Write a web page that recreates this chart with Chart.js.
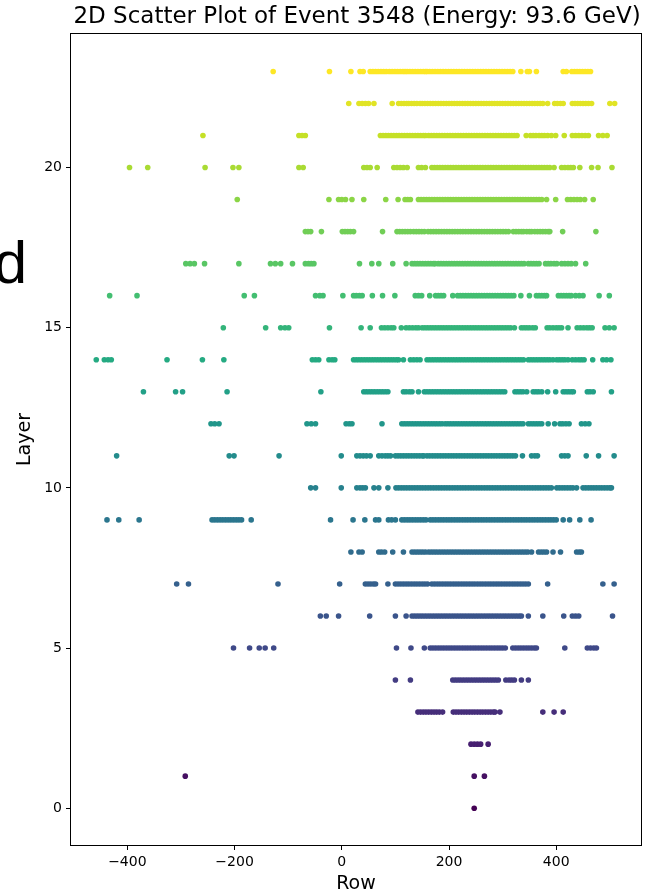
<!DOCTYPE html>
<html>
<head>
<meta charset="utf-8">
<script src="https://cdn.jsdelivr.net/npm/chart.js@4.4.1/dist/chart.umd.min.js"></script>
<style>
  html, body { margin: 0; padding: 0; background: #fff; }
  #wrap { width: 646px; height: 894px; position: relative; }
</style>
</head>
<body>
<div id="wrap"><canvas id="cv"></canvas></div>
<script>
// Row positions of hits, one array per layer
const L0 = [247];
const L1 = [-292, 247, 266];
const L2 = [241, 247, 253, 259, 273];
const L3 = [142, 147, 152, 157, 162, 167, 172, 177, 182, 188, 208, 213, 218, 223, 228, 233, 238, 243, 248, 253, 258, 263, 268, 273, 278, 283, 286, 295, 375, 396, 413];
const L4 = [100, 128, 207, 212, 217, 222, 227, 232, 237, 242, 247, 252, 257, 262, 267, 272, 277, 282, 287, 292, 306, 312, 317, 322, 335, 348];
const L5 = [-202, -172, -154, -143, -127, 102, 129, 154, 165, 170, 175, 180, 185, 190, 195, 200, 205, 210, 215, 220, 225, 230, 235, 240, 245, 250, 255, 260, 265, 270, 275, 280, 285, 290, 295, 300, 305, 319, 324, 329, 334, 339, 344, 349, 354, 359, 363, 416, 458, 464, 470, 475];
const L6 = [-40, -29, -6, 52, 100, 120, 131, 136, 141, 146, 151, 156, 161, 166, 171, 176, 181, 186, 191, 196, 201, 206, 211, 216, 221, 226, 231, 236, 241, 246, 251, 256, 261, 266, 271, 276, 281, 286, 291, 296, 301, 306, 311, 316, 321, 326, 331, 335, 348, 375, 414, 430, 436, 442, 505];
const L7 = [-308, -286, -119, -4, 44, 49, 54, 59, 63, 86, 100, 105, 110, 115, 120, 125, 130, 135, 140, 145, 150, 155, 160, 168, 173, 178, 183, 188, 193, 198, 203, 208, 213, 218, 223, 228, 233, 238, 243, 248, 253, 258, 263, 268, 273, 278, 283, 288, 293, 298, 303, 308, 313, 318, 323, 328, 333, 338, 343, 348, 384, 487, 508];
const L8 = [17, 32, 38, 69, 74, 80, 95, 115, 131, 136, 141, 146, 151, 156, 162, 167, 172, 177, 182, 187, 192, 197, 202, 207, 212, 217, 222, 227, 232, 237, 242, 247, 252, 257, 262, 267, 272, 277, 282, 287, 292, 297, 302, 307, 312, 317, 322, 327, 332, 337, 342, 347, 354, 367, 372, 377, 382, 394, 408, 438, 443, 447];
const L9 = [-438, -416, -378, -242, -237, -232, -227, -222, -217, -212, -207, -202, -197, -192, -187, -169, -21, 21, 43, 63, 69, 87, 93, 100, 112, 117, 122, 127, 132, 137, 142, 147, 152, 157, 165, 170, 175, 180, 185, 190, 195, 200, 205, 210, 215, 220, 225, 230, 235, 240, 245, 250, 255, 260, 265, 270, 275, 280, 285, 290, 295, 300, 305, 310, 315, 320, 325, 330, 335, 340, 345, 350, 355, 360, 365, 370, 375, 380, 385, 390, 395, 400, 413, 425, 444, 465];
const L10 = [-58, -49, -1, 28, 34, 39, 44, 60, 69, 86, 101, 106, 111, 116, 121, 126, 131, 136, 141, 146, 151, 156, 161, 166, 171, 176, 181, 186, 191, 196, 201, 206, 211, 216, 221, 226, 231, 236, 241, 246, 251, 256, 261, 266, 271, 276, 281, 286, 291, 296, 301, 306, 311, 316, 321, 326, 331, 336, 341, 346, 351, 356, 361, 366, 371, 376, 381, 386, 391, 401, 406, 411, 416, 421, 426, 431, 438, 450, 455, 460, 465, 470, 475, 480, 485, 490, 495, 500, 503];
const L11 = [-420, -210, -201, -117, -1, 28, 34, 40, 46, 53, 69, 75, 81, 86, 91, 100, 105, 110, 115, 120, 125, 130, 135, 140, 145, 150, 153, 159, 164, 169, 174, 179, 184, 189, 194, 199, 204, 209, 214, 219, 224, 229, 234, 239, 244, 249, 254, 259, 264, 269, 274, 279, 284, 289, 294, 299, 304, 309, 314, 319, 324, 337, 354, 360, 365, 410, 416, 422, 456, 479, 508];
const L12 = [-244, -237, -229, -65, -57, -49, 8, 14, 19, 75, 112, 117, 122, 127, 132, 137, 142, 147, 152, 157, 162, 167, 172, 177, 182, 187, 193, 198, 203, 208, 213, 218, 223, 228, 233, 238, 243, 248, 253, 258, 263, 268, 273, 278, 283, 288, 293, 298, 303, 308, 313, 318, 323, 328, 333, 338, 348, 353, 358, 363, 368, 373, 385, 397, 407, 412, 418, 424, 447, 454, 461];
const L13 = [-370, -310, -297, -214, -39, 41, 46, 51, 56, 61, 66, 71, 76, 81, 86, 115, 120, 126, 131, 143, 154, 159, 164, 169, 174, 179, 184, 189, 194, 199, 204, 209, 214, 219, 224, 229, 234, 239, 244, 249, 254, 259, 264, 269, 274, 279, 284, 289, 294, 299, 304, 323, 328, 333, 338, 345, 357, 362, 367, 373, 384, 399, 413, 418, 423, 428, 432, 458, 463, 469, 503];
const L14 = [-458, -443, -436, -430, -326, -260, -220, -55, -49, -43, -24, -18, -13, 22, 27, 32, 37, 42, 47, 52, 57, 62, 67, 72, 77, 82, 87, 92, 97, 102, 106, 115, 128, 134, 140, 146, 159, 164, 169, 174, 179, 184, 189, 194, 199, 204, 209, 214, 219, 224, 229, 234, 239, 244, 249, 254, 259, 264, 269, 274, 279, 284, 289, 294, 299, 304, 309, 314, 319, 324, 329, 334, 339, 348, 353, 358, 363, 368, 373, 378, 383, 388, 394, 401, 406, 411, 416, 422, 430, 436, 442, 447, 452, 468, 487, 494, 502];
const L15 = [-221, -142, -114, -106, -99, -23, 36, 53, 74, 80, 86, 92, 97, 111, 120, 126, 132, 138, 143, 150, 155, 160, 165, 170, 175, 180, 185, 190, 195, 200, 205, 210, 215, 220, 225, 230, 235, 240, 245, 250, 255, 260, 265, 270, 275, 280, 285, 290, 295, 300, 305, 310, 315, 322, 335, 340, 345, 350, 356, 361, 383, 388, 394, 400, 405, 410, 422, 439, 445, 451, 457, 462, 467, 491, 499, 508];
const L16 = [-433, -382, -182, -163, -49, -41, -35, 2, 22, 27, 33, 38, 57, 76, 99, 137, 143, 149, 164, 175, 180, 185, 190, 207, 216, 221, 226, 231, 236, 241, 246, 251, 256, 261, 266, 271, 276, 281, 286, 291, 296, 301, 306, 311, 316, 321, 334, 350, 363, 368, 373, 378, 382, 404, 409, 414, 419, 424, 428, 436, 443, 450, 480, 499];
const L17 = [-291, -283, -275, -256, -192, -133, -124, -114, -92, -68, -62, -57, -52, 33, 56, 69, 95, 120, 131, 136, 141, 146, 151, 156, 161, 166, 171, 174, 180, 185, 190, 195, 200, 205, 210, 215, 220, 225, 230, 235, 240, 245, 250, 255, 260, 265, 270, 275, 280, 285, 290, 295, 300, 305, 310, 315, 320, 325, 330, 335, 340, 348, 353, 358, 363, 368, 380, 385, 390, 396, 401, 410, 416, 422, 428, 436, 455];
const L18 = [-68, -63, -58, -38, 1, 6, 11, 16, 22, 76, 103, 108, 113, 118, 123, 128, 134, 139, 144, 149, 154, 161, 166, 171, 176, 181, 186, 191, 196, 201, 206, 211, 216, 221, 226, 231, 236, 241, 246, 251, 256, 261, 266, 271, 276, 281, 286, 291, 296, 301, 306, 311, 320, 325, 330, 335, 339, 345, 350, 354, 360, 365, 370, 375, 380, 385, 388, 412, 474];
const L19 = [-195, -24, -6, 0, 7, 19, 41, 82, 105, 118, 123, 128, 143, 148, 153, 158, 163, 168, 173, 178, 183, 188, 193, 198, 203, 208, 213, 218, 223, 228, 233, 238, 243, 248, 253, 258, 263, 268, 273, 278, 283, 288, 293, 298, 303, 308, 313, 318, 323, 328, 333, 338, 343, 348, 353, 358, 363, 368, 373, 382, 399, 421, 427, 433, 439, 445, 453, 469];
const L20 = [-396, -362, -255, -203, -192, -80, -72, 41, 47, 53, 66, 97, 103, 109, 115, 122, 143, 149, 156, 168, 173, 178, 183, 188, 193, 198, 203, 208, 213, 218, 223, 228, 233, 238, 243, 248, 253, 258, 263, 268, 273, 278, 283, 288, 293, 298, 303, 308, 313, 318, 323, 328, 333, 338, 343, 348, 353, 358, 363, 368, 373, 378, 383, 388, 396, 410, 416, 422, 427, 432, 444, 466, 478, 504];
const L21 = [-259, -80, -74, -68, 72, 77, 82, 87, 92, 97, 102, 107, 112, 117, 122, 127, 132, 137, 142, 147, 152, 156, 162, 167, 172, 177, 182, 187, 192, 197, 202, 207, 212, 217, 222, 227, 232, 237, 242, 247, 252, 257, 262, 267, 272, 277, 282, 287, 292, 297, 302, 307, 312, 317, 322, 327, 344, 352, 357, 362, 368, 373, 378, 384, 391, 399, 415, 430, 436, 442, 448, 454, 460, 479, 487, 495];
const L22 = [13, 32, 38, 44, 50, 60, 94, 106, 111, 116, 121, 125, 130, 135, 140, 146, 150, 155, 160, 165, 170, 175, 180, 185, 190, 195, 200, 205, 210, 215, 220, 225, 230, 235, 240, 245, 250, 255, 260, 265, 270, 275, 280, 285, 290, 295, 300, 305, 310, 315, 320, 325, 330, 335, 340, 345, 350, 355, 360, 365, 370, 375, 384, 397, 402, 408, 413, 430, 435, 440, 445, 450, 455, 460, 466, 500, 509];
const L23 = [-128, -23, 17, 34, 40, 53, 58, 63, 68, 73, 78, 83, 89, 94, 99, 104, 109, 114, 118, 122, 127, 132, 137, 142, 147, 152, 156, 159, 164, 169, 174, 179, 184, 189, 194, 199, 204, 209, 214, 219, 224, 229, 234, 239, 244, 249, 254, 259, 264, 269, 274, 279, 284, 289, 294, 299, 304, 309, 314, 319, 334, 346, 350, 363, 413, 419, 429, 434, 439, 444, 449, 454, 459, 464];

const LAYERS = [L0, L1, L2, L3, L4, L5, L6, L7, L8, L9, L10, L11, L12, L13, L14, L15, L16, L17, L18, L19, L20, L21, L22, L23];
const X_TICKS = [-400, -200, 0, 200, 400];
const Y_TICKS = [0, 5, 10, 15, 20];

// viridis stops
const VIRIDIS = ['#440154', '#482475', '#414487', '#355f8d', '#2a788e', '#21918c', '#22a884', '#44bf70', '#7ad151', '#bddf26', '#fde725'];
function viridis(t) {
  const p = t * (VIRIDIS.length - 1);
  const i = Math.min(Math.floor(p), VIRIDIS.length - 2);
  const f = p - i;
  const a = VIRIDIS[i], b = VIRIDIS[i + 1];
  const c = k => Math.round(parseInt(a.substr(k, 2), 16) * (1 - f) + parseInt(b.substr(k, 2), 16) * f);
  return `rgb(${c(1)},${c(3)},${c(5)})`;
}

const datasets = LAYERS.map((rows, layer) => ({
  label: 'Layer ' + layer,
  data: rows.map(x => ({ x, y: layer })),
  backgroundColor: viridis(layer / (LAYERS.length - 1)),
  borderWidth: 0,
  pointRadius: 2.8,
  pointHoverRadius: 2.8,
}));

const FONT = 'DejaVu Sans';
const minus = v => String(v).replace('-', '\u2212');

const textPlugin = {
  id: 'texts',
  afterDraw(chart) {
    const { ctx, chartArea: a } = chart;
    ctx.save();
    ctx.strokeStyle = '#000';
    ctx.lineWidth = 1;
    ctx.strokeRect(a.left + 0.5, a.top + 0.5, a.right - a.left - 1, a.bottom - a.top - 1);
    ctx.fillStyle = '#000';
    ctx.textAlign = 'center';
    ctx.textBaseline = 'middle';
    const cx = (a.left + a.right) / 2;
    ctx.font = `23px "${FONT}"`;
    ctx.fillText('2D Scatter Plot of Event 3548 (Energy: 93.6 GeV)', cx + 1, 17);
    ctx.font = `19px "${FONT}"`;
    ctx.fillText('Row', cx, 884);
    ctx.translate(25, (a.top + a.bottom) / 2);
    ctx.rotate(-Math.PI / 2);
    ctx.fillText('Layer', 0, 0);
    ctx.restore();
    // stray glyph from a neighbouring panel
    ctx.save();
    ctx.fillStyle = '#000';
    ctx.font = '60px "Liberation Sans"';
    ctx.textAlign = 'right';
    ctx.textBaseline = 'alphabetic';
    ctx.fillText('d', 27, 283);
    ctx.restore();
  }
};

new Chart(document.getElementById('cv'), {
  type: 'scatter',
  data: { datasets },
  options: {
    responsive: true,
    maintainAspectRatio: false,
    animation: false,
    layout: { padding: { top: 33, right: 4, left: 0, bottom: 0 } },
    plugins: { legend: { display: false }, tooltip: { enabled: false }, title: { display: false } },
    scales: {
      x: {
        type: 'linear', min: -507, max: 560,
        afterBuildTicks: s => { s.ticks = X_TICKS.map(v => ({ value: v })); },
        afterFit: s => { s.height = 48; },
        border: { display: false },
        grid: { drawOnChartArea: false, drawTicks: true, tickLength: 4, color: '#000', lineWidth: 1 },
        ticks: { color: '#000', font: { family: FONT, size: 14 }, padding: 4, maxRotation: 0, callback: v => minus(v) },
      },
      y: {
        type: 'linear', min: -1.18, max: 24.2,
        afterBuildTicks: s => { s.ticks = Y_TICKS.map(v => ({ value: v })); },
        afterFit: s => { s.width = 70; },
        border: { display: false },
        grid: { drawOnChartArea: false, drawTicks: true, tickLength: 4, color: '#000', lineWidth: 1 },
        ticks: { color: '#000', font: { family: FONT, size: 14 }, padding: 4, callback: v => minus(v) },
      },
    },
  },
  plugins: [textPlugin],
});
</script>
</body>
</html>
